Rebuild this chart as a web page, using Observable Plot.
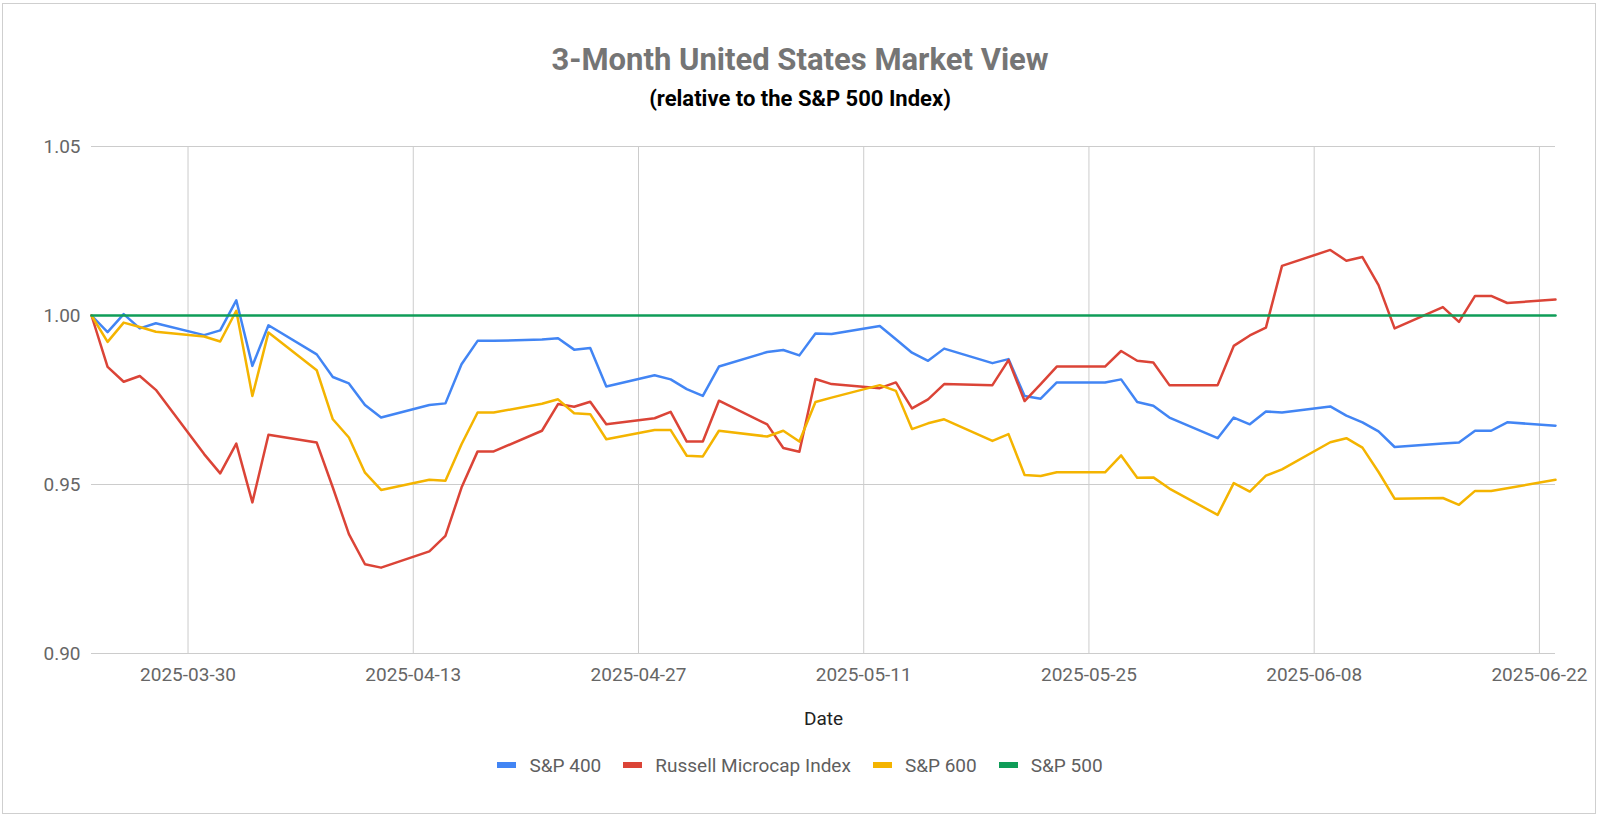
<!DOCTYPE html>
<html>
<head>
<meta charset="utf-8">
<script src="https://cdn.jsdelivr.net/npm/d3@7"></script>
<script src="https://cdn.jsdelivr.net/npm/@observablehq/plot@0.6"></script>
<style>
  html, body { margin: 0; padding: 0; background: #fff; }
  body { width: 1600px; height: 818px; position: relative; overflow: hidden; font-family: Roboto, "Noto Sans", sans-serif; }
  #frame { position: absolute; left: 2px; top: 3px; width: 1594px; height: 811px; box-sizing: border-box; border: 1px solid #cfcfcf; }
  #title { position: absolute; left: 0; width: 1600px; top: 43px; line-height: 34px; text-align: center; font-size: 31px; font-weight: 700; color: #757575; }
  #subtitle { position: absolute; left: 0; width: 1600px; top: 86px; line-height: 26px; text-align: center; font-size: 22px; font-weight: 700; color: #000; }
  #chart { position: absolute; left: 0; top: 120px; }
  #legend { position: absolute; left: 0; width: 1600px; top: 753px; height: 24px; display: flex; justify-content: center; align-items: center; font-size: 19px; color: #5f5f5f; }
  .item { display: flex; align-items: center; margin: 0 11px; }
  .sw { width: 19px; height: 6px; margin-right: 13px; }
</style>
</head>
<body>
<div id="frame"></div>
<div id="title">3-Month United States Market View</div>
<div id="subtitle">(relative to the S&amp;P 500 Index)</div>
<div id="chart"></div>
<div id="legend"></div>
<script>
// ---- data ----
const dates = [
  "2025-03-24","2025-03-25","2025-03-26","2025-03-27","2025-03-28",
  "2025-03-31","2025-04-01","2025-04-02","2025-04-03","2025-04-04",
  "2025-04-07","2025-04-08","2025-04-09","2025-04-10","2025-04-11",
  "2025-04-14","2025-04-15","2025-04-16","2025-04-17","2025-04-18",
  "2025-04-21","2025-04-22","2025-04-23","2025-04-24","2025-04-25",
  "2025-04-28","2025-04-29","2025-04-30","2025-05-01","2025-05-02",
  "2025-05-05","2025-05-06","2025-05-07","2025-05-08","2025-05-09",
  "2025-05-12","2025-05-13","2025-05-14","2025-05-15","2025-05-16",
  "2025-05-19","2025-05-20","2025-05-21","2025-05-22","2025-05-23",
  "2025-05-26","2025-05-27","2025-05-28","2025-05-29","2025-05-30",
  "2025-06-02","2025-06-03","2025-06-04","2025-06-05","2025-06-06",
  "2025-06-09","2025-06-10","2025-06-11","2025-06-12","2025-06-13",
  "2025-06-16","2025-06-17","2025-06-18","2025-06-19","2025-06-20",
  "2025-06-23"
];
const sp400 = [
  1.0000,0.9951,1.0004,0.9962,0.9977,
  0.9942,0.9956,1.0045,0.9851,0.9971,
  0.9885,0.9818,0.9799,0.9735,0.9698,
  0.9735,0.9740,0.9856,0.9925,0.9925,
  0.9929,0.9933,0.9899,0.9904,0.9790,
  0.9823,0.9811,0.9782,0.9762,0.9849,
  0.9892,0.9898,0.9882,0.9947,0.9945,
  0.9969,0.9930,0.9890,0.9866,0.9902,
  0.9859,0.9871,0.9762,0.9754,0.9802,
  0.9802,0.9811,0.9744,0.9733,0.9698,
  0.9637,0.9698,0.9678,0.9716,0.9713,
  0.9731,0.9704,0.9684,0.9657,0.9611,
  0.9621,0.9624,0.9659,0.9659,0.9684,
  0.9674
];
const russell = [
  1.0000,0.9848,0.9804,0.9821,0.9780,
  0.9590,0.9533,0.9621,0.9447,0.9647,
  0.9624,0.9491,0.9353,0.9264,0.9254,
  0.9302,0.9348,0.9491,0.9598,0.9598,
  0.9659,0.9738,0.9730,0.9745,0.9678,
  0.9696,0.9715,0.9627,0.9627,0.9748,
  0.9678,0.9608,0.9597,0.9812,0.9797,
  0.9785,0.9802,0.9725,0.9752,0.9797,
  0.9794,0.9868,0.9747,0.9797,0.9849,
  0.9849,0.9895,0.9866,0.9861,0.9794,
  0.9794,0.9910,0.9941,0.9964,1.0147,
  1.0194,1.0162,1.0173,1.0090,0.9962,
  1.0025,0.9981,1.0058,1.0058,1.0037,
  1.0047
];
const sp600 = [
  1.0000,0.9922,0.9979,0.9966,0.9952,
  0.9938,0.9923,1.0014,0.9762,0.9950,
  0.9838,0.9693,0.9639,0.9535,0.9484,
  0.9514,0.9511,0.9619,0.9713,0.9713,
  0.9739,0.9752,0.9711,0.9708,0.9634,
  0.9661,0.9661,0.9585,0.9583,0.9659,
  0.9642,0.9659,0.9627,0.9744,0.9757,
  0.9794,0.9777,0.9664,0.9681,0.9693,
  0.9629,0.9649,0.9528,0.9525,0.9536,
  0.9536,0.9586,0.9520,0.9521,0.9488,
  0.9410,0.9504,0.9479,0.9526,0.9545,
  0.9625,0.9637,0.9609,0.9537,0.9458,
  0.9460,0.9440,0.9481,0.9481,0.9489,
  0.9514
];
const sp500 = dates.map(() => 1.0);

const seriesNames = ["S&P 400", "Russell Microcap Index", "S&P 600", "S&P 500"];
const seriesColors = ["#4285F4", "#DB4437", "#F4B400", "#0F9D58"];
const xTickLabels = ["2025-03-30","2025-04-13","2025-04-27","2025-05-11","2025-05-25","2025-06-08","2025-06-22"];
const yTicks = [0.90, 0.95, 1.00, 1.05];
const xDomain = ["2025-03-24", "2025-06-23"];
const xTitle = "Date";

// ---- build table ----
const parse = d3.utcParse("%Y-%m-%d");
const seriesValues = [sp400, russell, sp600, sp500];
const rows = [];
seriesNames.forEach((name, i) => {
  dates.forEach((d, j) => rows.push({ series: name, date: parse(d), value: seriesValues[i][j] }));
});
const xTicks = xTickLabels.map(parse);

const chart = Plot.plot({
  width: 1600,
  height: 620,
  marginLeft: 91,
  marginRight: 45,
  marginTop: 26,
  marginBottom: 87,
  style: { fontFamily: "Roboto, sans-serif", fontSize: "19px", background: "transparent" },
  x: { type: "utc", domain: xDomain.map(parse) },
  y: { domain: [0.90, 1.05] },
  color: { domain: seriesNames, range: seriesColors },
  marks: [
    Plot.gridX(xTicks, { stroke: "#cccccc", strokeOpacity: 1, strokeWidth: 1 }),
    Plot.gridY(yTicks, { stroke: "#cccccc", strokeOpacity: 1, strokeWidth: 1 }),
    Plot.axisY(yTicks, { tickSize: 0, tickPadding: 11, tickFormat: d3.format(".2f"), fill: "#666", fontSize: 19, label: null }),
    Plot.axisX(xTicks, { tickSize: 0, tickPadding: 14, tickFormat: d3.utcFormat("%Y-%m-%d"), fill: "#666", fontSize: 19, label: null }),
    Plot.text([xTitle], { frameAnchor: "bottom", dy: 71, fill: "#222", fontSize: 19 }),
    Plot.line(rows, { x: "date", y: "value", z: "series", stroke: "series", strokeWidth: 2.5, strokeLinejoin: "round", strokeLinecap: "round" })
  ]
});
document.getElementById("chart").appendChild(chart);

// ---- legend ----
const legend = document.getElementById("legend");
seriesNames.forEach((name, i) => {
  const item = document.createElement("div");
  item.className = "item";
  const sw = document.createElement("div");
  sw.className = "sw";
  sw.style.background = seriesColors[i];
  const tx = document.createElement("span");
  tx.textContent = name;
  item.appendChild(sw);
  item.appendChild(tx);
  legend.appendChild(item);
});
</script>
</body>
</html>
